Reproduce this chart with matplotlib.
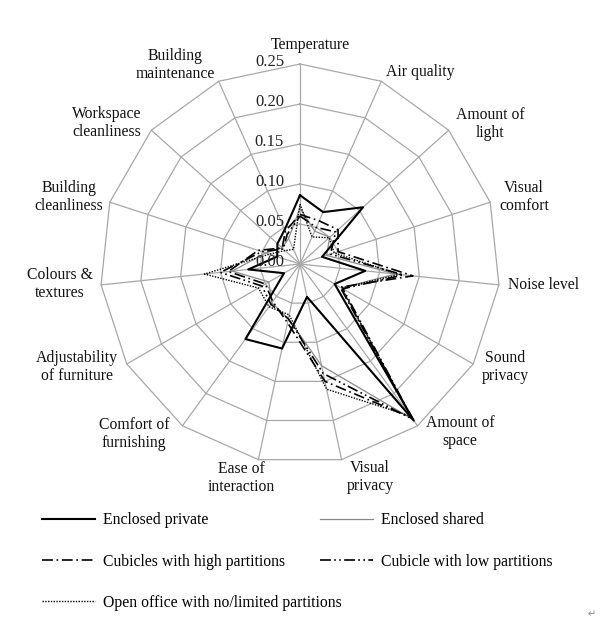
import numpy as np
import matplotlib
matplotlib.use('Agg')
import matplotlib.pyplot as plt
from matplotlib.transforms import offset_copy

# ---------------- data ----------------
categories = ['Temperature', 'Air quality', 'Amount of\nlight', 'Visual\ncomfort',
              'Noise level', 'Sound\nprivacy', 'Amount of\nspace', 'Visual\nprivacy',
              'Ease of\ninteraction', 'Comfort of\nfurnishing', 'Adjustability\nof furniture',
              'Colours &\ntextures', 'Building\ncleanliness', 'Workspace\ncleanliness',
              'Building\nmaintenance']

radial_levels = [0.00, 0.05, 0.10, 0.15, 0.20, 0.25]

enclosed_private = [0.086, 0.071, 0.106, 0.029, 0.082, 0.050, 0.242, 0.042,
                    0.108, 0.116, 0.023, 0.065, 0.030, 0.038, 0.047]
enclosed_shared = [0.070, 0.045, 0.050, 0.035, 0.120, 0.060, 0.240, 0.130,
                   0.070, 0.060, 0.045, 0.085, 0.045, 0.030, 0.035]
cubicles_high = [0.062, 0.059, 0.064, 0.050, 0.142, 0.058, 0.238, 0.150,
                 0.075, 0.058, 0.050, 0.090, 0.055, 0.030, 0.045]
cubicles_low = [0.060, 0.050, 0.060, 0.040, 0.130, 0.062, 0.240, 0.140,
                0.070, 0.062, 0.055, 0.100, 0.050, 0.028, 0.040]
open_office = [0.075, 0.037, 0.049, 0.045, 0.125, 0.060, 0.235, 0.160,
               0.065, 0.066, 0.060, 0.120, 0.040, 0.025, 0.020]

series_labels = ['Enclosed private', 'Enclosed shared', 'Cubicles with high partitions',
                 'Cubicle with low partitions', 'Open office with no/limited partitions']

# ---------------- layout ----------------
W, H = 603, 626
FONT = 'Liberation Serif'
FS = 11.3
plt.rcParams['font.family'] = [FONT, 'DejaVu Sans']

fig = plt.figure(figsize=(W / 100, H / 100), dpi=100)
cx, cy, R = 300, 264, 200
ax = fig.add_axes([(cx - R) / W, 1 - (cy + R) / H, 2 * R / W, 2 * R / H], projection='polar')
ax.set_theta_zero_location('N')
ax.set_theta_direction(-1)
ax.set_ylim(0, max(radial_levels))
ax.grid(False)
ax.spines['polar'].set_visible(False)
ax.set_xticks([])
ax.set_yticks([])
ax.patch.set_alpha(0)

n = len(categories)
angles = np.arange(n) * 2 * np.pi / n
closed = np.append(angles, angles[0])

grid_c = '#a8a8a8'
for r in radial_levels[1:]:
    ax.plot(closed, [r] * (n + 1), color=grid_c, lw=0.9, zorder=1, clip_on=False)
for a in angles:
    ax.plot([a, a], [0, max(radial_levels)], color=grid_c, lw=0.9, zorder=1, clip_on=False)

def close(v):
    return list(v) + [v[0]]

h_ep, = ax.plot(closed, close(enclosed_private), color='black', lw=1.5, zorder=5, clip_on=False)
h_es, = ax.plot(closed, close(enclosed_shared), color='#8a8a8a', lw=0.9, zorder=4, clip_on=False)
h_ch, = ax.plot(closed, close(cubicles_high), color='black', lw=1.2,
                linestyle=(0, (6.5, 2.2, 1, 2.2)), zorder=4, clip_on=False)
h_cl, = ax.plot(closed, close(cubicles_low), color='black', lw=1.2,
                linestyle=(0, (6.5, 2, 1, 2, 1, 2)), zorder=4, clip_on=False)
h_oo, = ax.plot(closed, close(open_office), color='black', lw=1.0,
                linestyle=(0, (1, 1)), zorder=4, clip_on=False)

# radial labels
tr = offset_copy(ax.transData, fig=fig, x=-16, y=1.5, units='dots')
for r in radial_levels:
    ax.text(0, r, f'{r:.2f}', transform=tr, ha='right', va='center',
            fontsize=12, family=FONT, color='#222222', zorder=6)

# category labels (block centres in pixels)
label_pos = [(310, 45), (420, 72), (490, 124), (524, 197), (543, 285), (505, 367),
             (460, 432), (370, 477), (241, 478), (134, 434), (77, 367), (60, 284),
             (69, 197), (107, 123), (175, 65)]
for lab, (px, py) in zip(categories, label_pos):
    fig.text(px / W, 1 - py / H, lab, ha='center', va='center', multialignment='center',
             fontsize=FS, family=FONT, linespacing=1.1, color='#111111')

# legend
common = dict(frameon=False, handlelength=3.4, handletextpad=0.5, labelspacing=1.6,
              borderpad=0, borderaxespad=0, prop={'family': FONT, 'size': FS})
fig.legend([h_ep, h_ch, h_oo], [series_labels[0], series_labels[2], series_labels[4]],
           loc='center left', bbox_to_anchor=(42 / W, 1 - 561.5 / H), **common)
fig.legend([h_es, h_cl], [series_labels[1], series_labels[3]],
           loc='center left', bbox_to_anchor=(320 / W, 1 - 541 / H), **common)

fig.text(592 / W, 1 - 614 / H, '\u21b5', fontsize=7, color='#888888',
         family='DejaVu Sans', ha='center', va='center')

fig.savefig('out.png', dpi=100, facecolor='white')
